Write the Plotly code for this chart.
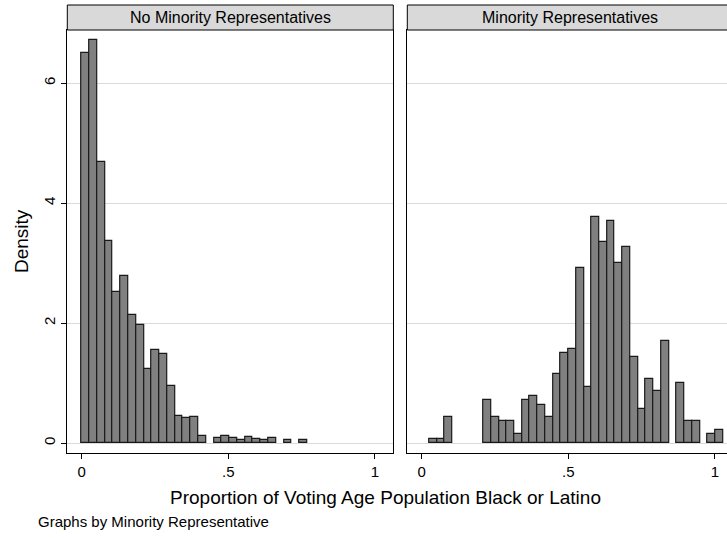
import plotly.graph_objects as go

# ---- data ----
panel_titles = ["No Minority Representatives", "Minority Representatives"]

left_bin_start = 0.0
left_bin_width = 0.02652
left_density = [6.505, 6.71, 4.69, 3.36, 2.51, 2.79, 2.13, 1.96, 1.24, 1.55,
                1.49, 0.95, 0.455, 0.41, 0.43, 0.12, None, 0.089, 0.111, 0.078,
                0.05, 0.094, 0.067, 0.056, 0.083, None, 0.044, None, 0.044]

right_bin_start = 0.026
right_bin_width = 0.02635
right_density = [0.072, 0.072, 0.428, None, None, None, None, 0.717, 0.428, 0.361,
                 0.361, 0.144, 0.717, 0.783, 0.639, 0.428, 1.144, 1.494, 1.567, 2.922,
                 0.928, 3.772, 3.344, 3.7, 2.994, 3.272, 1.428, 0.572, 1.072, 0.861,
                 1.706, None, 1.0, 0.361, 0.361, None, 0.144, 0.217]

x_tick_vals = [0, 0.5, 1]
x_tick_text = ["0", ".5", "1"]
y_tick_vals = [0, 2, 4, 6]
y_tick_text = ["0", "2", "4", "6"]

x_title = "Proportion of Voting Age Population Black or Latino"
y_title = "Density"
note = "Graphs by Minority Representative"

# ---- layout geometry (pixels) ----
W, H = 727, 538
FONT = "Liberation Sans, Arial, sans-serif"

def px_x(p):
    return p / W

def px_y(p):
    return (H - p) / H

left_edges = [left_bin_start + i * left_bin_width for i in range(len(left_density))]
right_edges = [right_bin_start + i * right_bin_width for i in range(len(right_density))]

bar_style = dict(marker=dict(color="#808080", line=dict(color="#1a1a1a", width=1.2)),
                 offset=0, showlegend=False, hoverinfo="skip")

fig = go.Figure()
fig.add_trace(go.Bar(x=left_edges, y=left_density, width=[left_bin_width] * len(left_edges),
                     xaxis="x", yaxis="y", **bar_style))
fig.add_trace(go.Bar(x=right_edges, y=right_density, width=[right_bin_width] * len(right_edges),
                     xaxis="x2", yaxis="y2", **bar_style))

plot_top, plot_bottom = 30, 453
y_dom = [px_y(plot_bottom), px_y(plot_top)]
y_range = [-10 / 60, 413 / 60]

common_x = dict(showline=True, linecolor="black", linewidth=1, mirror=True,
                ticks="outside", ticklen=5, tickcolor="black", tickwidth=1,
                tickvals=x_tick_vals, ticktext=x_tick_text, showgrid=False, zeroline=False,
                tickfont=dict(family=FONT, size=15, color="black"))
common_y = dict(range=y_range, domain=y_dom, showgrid=True, gridcolor="#dadada", gridwidth=1.3,
                zeroline=False, tickvals=y_tick_vals, showline=True, linecolor="black", linewidth=1)

fig.update_layout(
    width=W, height=H, margin=dict(l=0, r=0, t=0, b=0),
    paper_bgcolor="white", plot_bgcolor="white", bargap=0,
    xaxis=dict(domain=[px_x(67.3), px_x(393.3)], range=[-0.049, 1.0625], anchor="y", **common_x),
    xaxis2=dict(domain=[px_x(407.3), 1.0], range=[-0.049, 1.041], anchor="y2", **common_x),
    yaxis=dict(anchor="x", mirror=True, ticks="outside", ticklen=5, tickcolor="black",
               ticktext=y_tick_text, tickangle=-90, ticklabelstandoff=0,
               tickfont=dict(family=FONT, size=15, color="black"), **common_y),
    yaxis2=dict(anchor="x2", mirror=False, ticks="", showticklabels=False, **common_y),
)

# strips
strip_top = 5
for x0, x1, title in [(67.3, 393.3, panel_titles[0]), (407.3, 733.3, panel_titles[1])]:
    fig.add_shape(type="rect", xref="paper", yref="paper",
                  x0=px_x(x0), x1=px_x(x1), y0=px_y(plot_top), y1=px_y(strip_top),
                  fillcolor="#d9d9d9", line=dict(color="black", width=1), layer="above")
    fig.add_annotation(xref="paper", yref="paper", x=px_x((x0 + x1) / 2), y=px_y((plot_top + strip_top) / 2),
                       text=title, showarrow=False, xanchor="center", yanchor="middle",
                       font=dict(family=FONT, size=16, color="black"))

fig.add_annotation(xref="paper", yref="paper", x=px_x(385), y=px_y(497), text=x_title,
                   showarrow=False, xanchor="center", yanchor="middle",
                   font=dict(family=FONT, size=19, color="black"))
fig.add_annotation(xref="paper", yref="paper", x=px_x(21), y=px_y(241), text=y_title,
                   showarrow=False, textangle=-90, xanchor="center", yanchor="middle",
                   font=dict(family=FONT, size=19, color="black"))
fig.add_annotation(xref="paper", yref="paper", x=px_x(36), y=px_y(521), text=note,
                   showarrow=False, xanchor="left", yanchor="middle",
                   font=dict(family=FONT, size=15, color="black"))

fig.write_html("out.html", config={"displayModeBar": False},
               post_script="document.body.style.margin='0';document.body.style.padding='0';"
                           "document.body.style.overflow='hidden';")
